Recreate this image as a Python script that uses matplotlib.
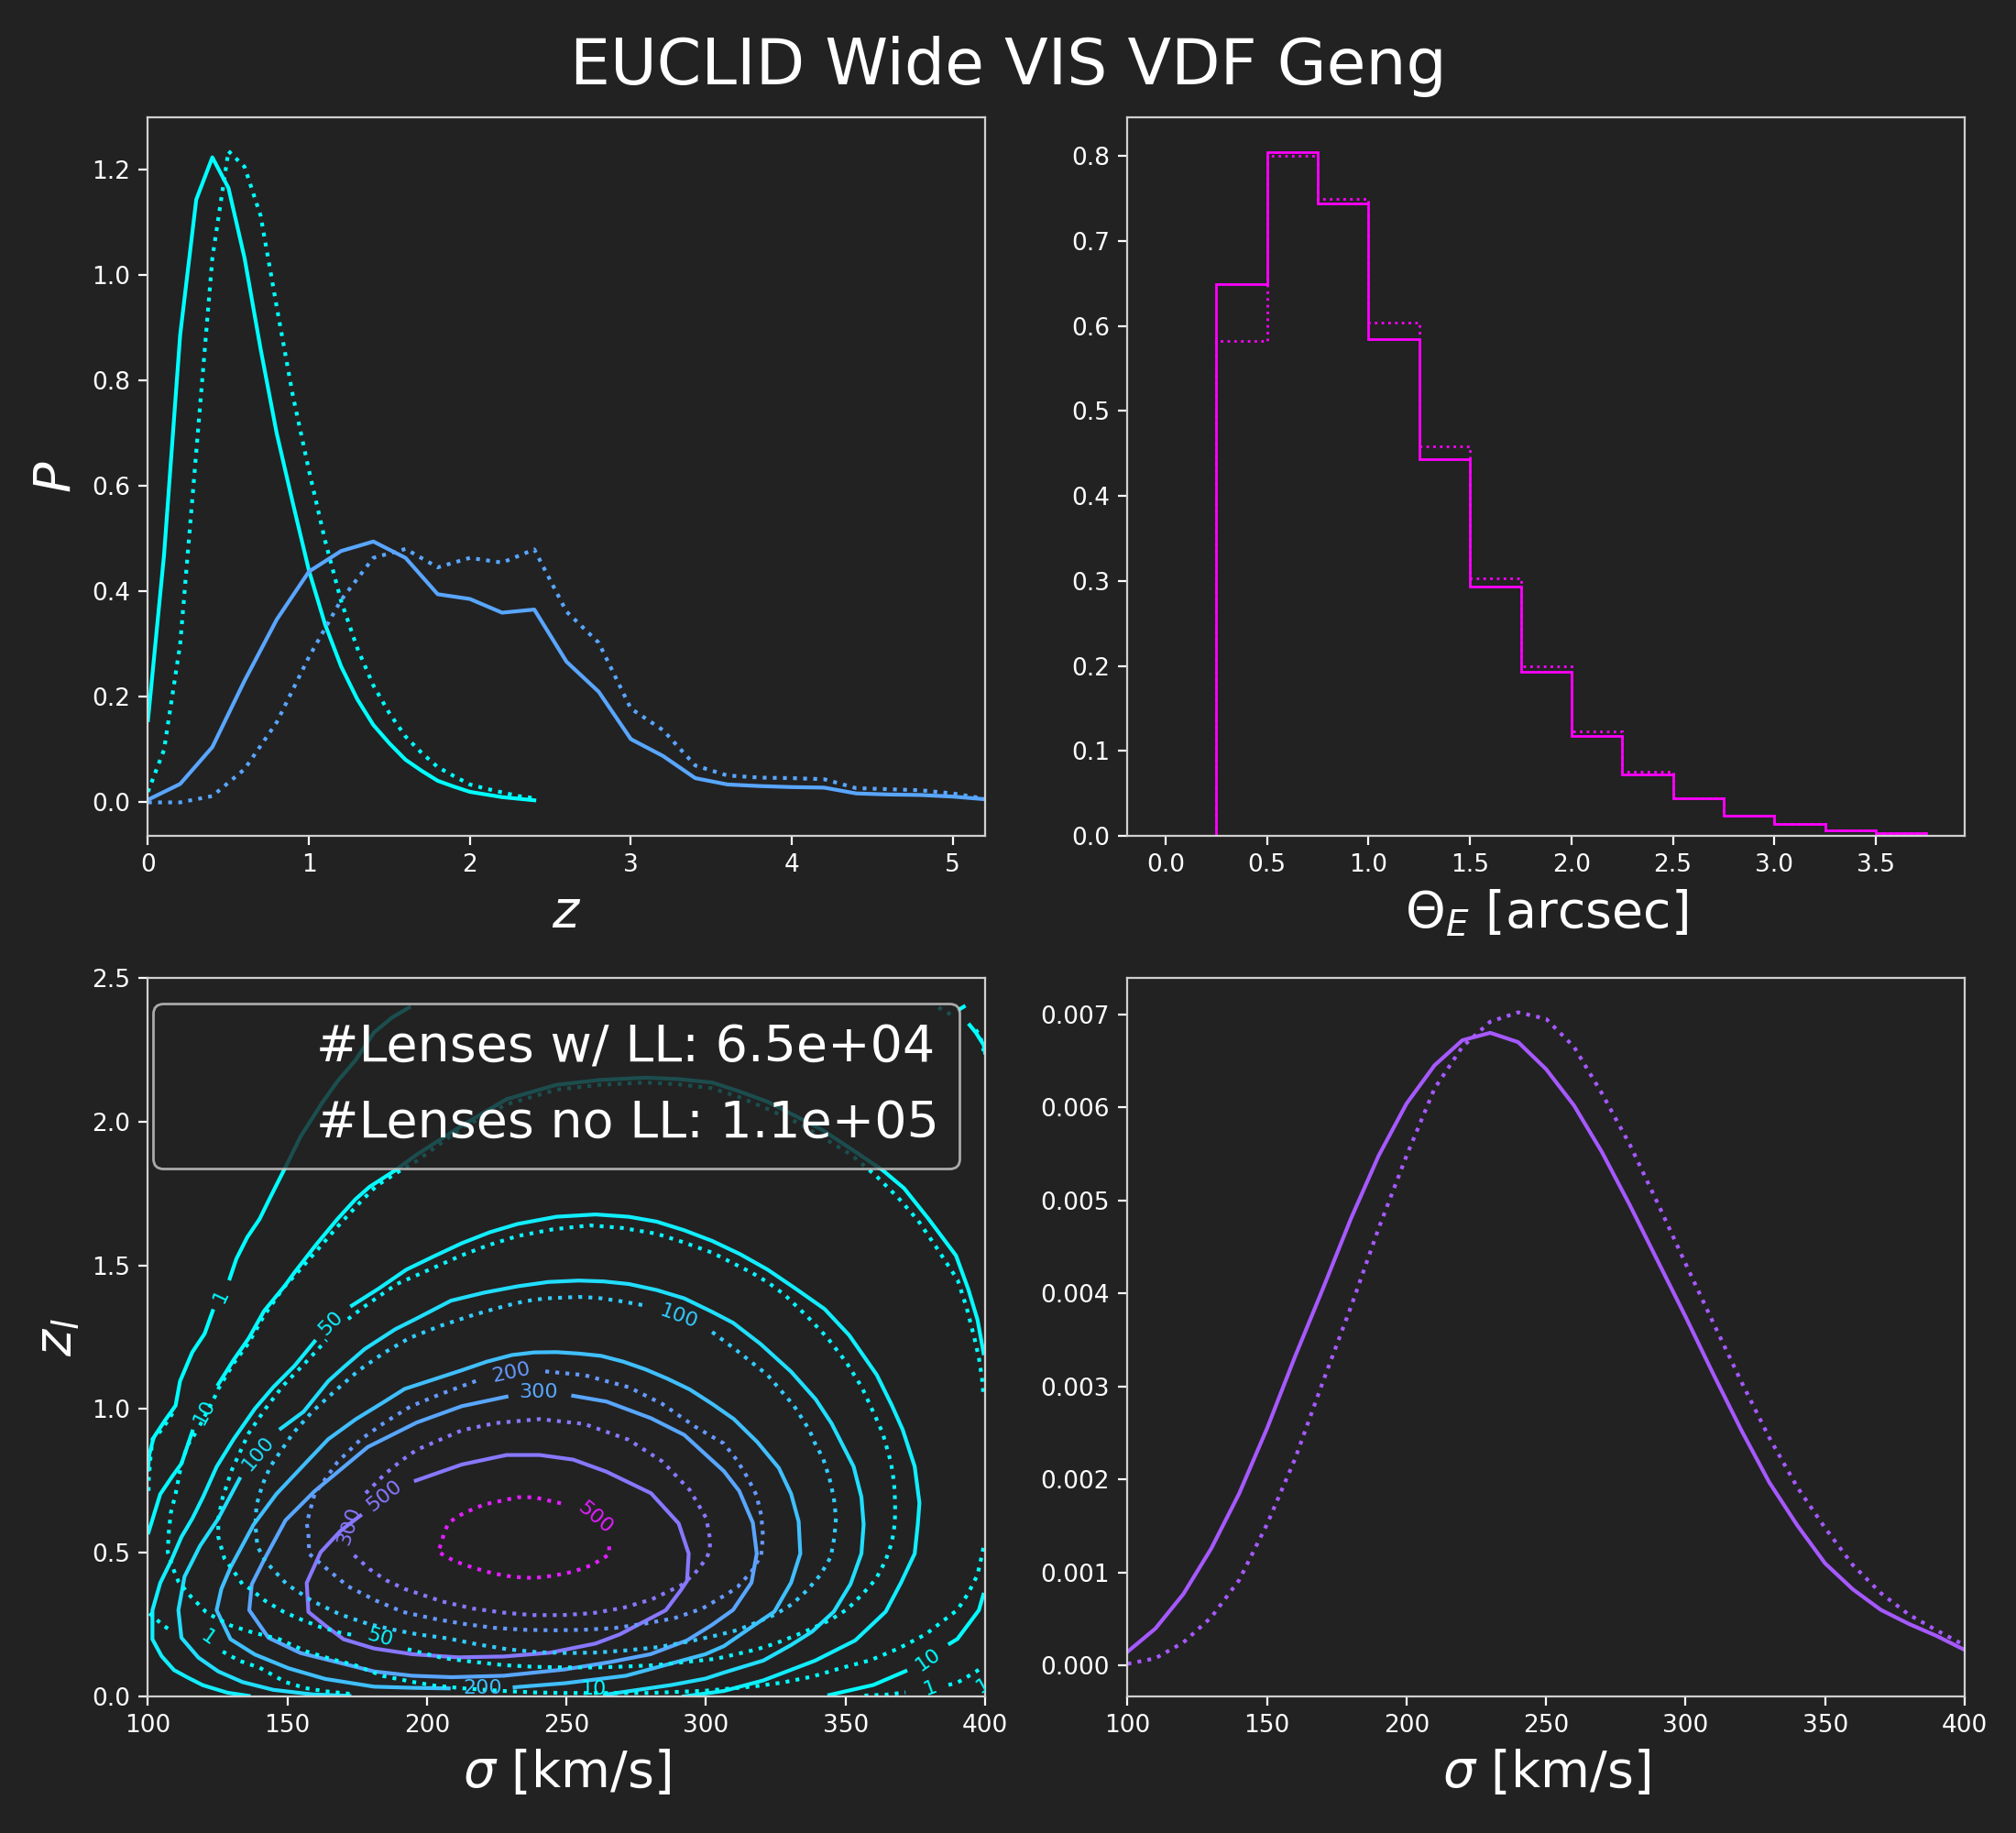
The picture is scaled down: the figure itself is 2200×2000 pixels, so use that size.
import matplotlib
matplotlib.use("Agg")
from matplotlib import pyplot as plt
import numpy as np

bg = "#222222"

# top left: redshift distributions
z_lens = [0, .1, .2, .3, .4, .5, .6, .7, .8, .9, 1.0, 1.1, 1.2, 1.3, 1.4, 1.5, 1.6, 1.7, 1.8, 1.9, 2.0, 2.1, 2.2, 2.3, 2.4]
p_lens_ll = [.156, .47, .887, 1.144, 1.224, 1.166, 1.033, .86, .70, .568, .44, .338, .258, .196, .147, .112, .081, .06, .041, .03, .02, .015, .01, .007, .004]
p_lens_noll = [.02, .10, .30, .665, 1.033, 1.236, 1.206, 1.113, .94, .772, .63, .497, .382, .293, .222, .169, .125, .094, .067, .05, .034, .026, .019, .012, .008]
z_src = [0, .2, .4, .6, .8, 1.0, 1.2, 1.4, 1.6, 1.8, 2.0, 2.2, 2.4, 2.6, 2.8, 3.0, 3.2, 3.4, 3.6, 3.8, 4.0, 4.2, 4.4, 4.6, 4.8, 5.0, 5.2]
p_src_ll = [.005, .035, .105, .231, .347, .438, .477, .495, .464, .395, .386, .36, .366, .267, .21, .12, .088, .046, .034, .031, .029, .028, .017, .015, .014, .011, .006]
p_src_noll = [0, 0, .012, .063, .152, .276, .384, .464, .481, .446, .464, .455, .48, .362, .303, .178, .137, .07, .051, .047, .046, .044, .027, .025, .023, .017, .007]

# top right: einstein radius histogram
theta_edges = [.25, .5, .75, 1.0, 1.25, 1.5, 1.75, 2.0, 2.25, 2.5, 2.75, 3.0, 3.25, 3.5, 3.75]
theta_ll = [.649, .805, .744, .585, .443, .293, .193, .118, .072, .044, .0234, .0144, .0065, .0036]
theta_noll = [.583, .80, .75, .604, .458, .303, .2, .1233, .0755, .0445, .024, .0144, .0065, .0036]

# bottom right: velocity dispersion
sigma = list(range(100, 401, 10))
p_sigma_ll = [.00015, .0004, .00077, .00126, .00185, .00255, .00332, .00405, .0048, .00548, .00604, .00645, .00672, .0068, .0067, .00641,
              .00602, .00552, .00495, .00435, .00375, .00313, .00253, .00197, .00151, .0011, .00082, .0006, .00045, .00032, .00017]
p_sigma_noll = [.00002, .00008, .00025, .00052, .00092, .00152, .00222, .00305, .00385, .0047, .00548, .0062, .00665, .00692, .00702, .00695,
                .00665, .00615, .0056, .00497, .00432, .00368, .00305, .00245, .00192, .00148, .00108, .00078, .00055, .00038, .00022]

# bottom left: contour lines, (sigma, z) per segment
ll_1 = [
    [(100, .789), (100.5, .842), (102, .90), (106, .959), (109.9, 1.012), (111.5, 1.097), (115.9, 1.198), (120.3, 1.262), (123.2, 1.341)],
    [(129.3, 1.454), (131.7, 1.523), (135.6, 1.598), (140, 1.661), (143.8, 1.736), (149.3, 1.842), (154.7, 1.948), (162.4, 2.065), (167.9, 2.14),
     (174.4, 2.214), (181, 2.31), (187.6, 2.363), (193.6, 2.397)],
    [(390.7, 2.39), (392.4, 2.40)],
    [(394.5, 2.336), (396.7, 2.31), (399.5, 2.267), (400, 2.24)],
]
ll_10 = [
    [(100.2, .571), (104.4, .704), (108.8, .767), (112, .81), (115.9, .922)],
    [(125.2, 1.086), (130.7, 1.171), (136.1, 1.246), (141.6, 1.341), (149.3, 1.432), (152.5, 1.475), (160.2, 1.571), (167.9, 1.661), (174.4, 1.73),
     (179.4, 1.773), (188.7, 1.831), (196.3, 1.885), (212.5, 1.986), (228.5, 2.078), (246.4, 2.128), (262, 2.145), (278.3, 2.153), (290, 2.148), (302.2, 2.136),
     (312, 2.105), (322.1, 2.069), (332, 2.02), (342, 1.969), (352, 1.905), (363.3, 1.831), (371, 1.768), (379.8, 1.661), (389.6, 1.534), (394, 1.417), (397.3, 1.311), (399.5, 1.194)],
    [(344.2, .005), (360, .04), (371.5, .088)],
    [(387.4, .184), (390.1, .20), (397.8, .30), (399.4, .354)],
]
ll_50 = [
    [(136.1, .002), (128.5, .013), (119.7, .039), (114.2, .066), (109.3, .092), (104.9, .14), (101.6, .199), (101.6, .30), (104.4, .395), (108.2, .47),
     (112, .555), (115.9, .619), (119.7, .693), (124.6, .799), (130.7, .895), (138.3, 1.001), (144.9, 1.076), (152.5, 1.15), (159.7, 1.235)],
    [(173.1, 1.36), (182.7, 1.419), (192.6, 1.485), (202.6, 1.532), (212.5, 1.577), (222.5, 1.615), (232.5, 1.644), (246.4, 1.669), (260.4, 1.677), (272.3, 1.669),
     (282.3, 1.652), (292.2, 1.622), (302.2, 1.585), (312.2, 1.539), (322.1, 1.485), (332.1, 1.419), (342.5, 1.348), (351.3, 1.257), (361.2, 1.119), (366.6, 1.013),
     (370.5, .928), (374.8, .80), (376.5, .673), (375.9, .598), (374.8, .497), (369.9, .396), (364.4, .295), (353.5, .195), (339.2, .125), (320.6, .056), (306.4, .019), (292, 0)],
]
ll_100 = [
    [(172.2, .002), (159.1, .007), (144.9, .023), (133.9, .05), (125.2, .087), (118.1, .135), (112, .204), (110.9, .30), (113.1, .417), (118.6, .523),
     (125.2, .619), (132.8, .757)],
    [(147.6, .932), (155.8, .991), (164.6, 1.097), (170.1, 1.145), (177.7, 1.209), (188.7, 1.278), (196.3, 1.315), (208.6, 1.377), (220.5, 1.405), (232.5, 1.427),
     (243.4, 1.442), (254.4, 1.447), (263.3, 1.444), (272.3, 1.435), (282.3, 1.414), (292.2, 1.385), (302.2, 1.338), (309.7, 1.30), (319.6, 1.226), (330.5, 1.13), (339.3, 1.034), (345, .95), (352.9, .80), (355.7, .694),
     (356.5, .598), (355.7, .497), (351.8, .391), (345.8, .295), (338.1, .226), (330.5, .179), (320.6, .125), (306.4, .083), (299.8, .062), (287.7, .04), (263.7, .006)],
]
ll_200 = [
    [(207.8, .028), (194.7, .03), (181, .034), (163.5, .061), (150.4, .098), (138.3, .146), (129.6, .199), (124.6, .30), (126.3, .374), (129.6, .449),
     (137.8, .597), (146, .704), (155.8, .805), (164.6, .895), (174.4, .964), (184.3, 1.023), (192, 1.07), (212.5, 1.135), (221.5, 1.165), (230.5, 1.188), (238.4, 1.197), (246.4, 1.198),
     (254.4, 1.193), (262.4, 1.185), (270.3, 1.165), (278.3, 1.138), (286.3, 1.105), (294.2, 1.068), (302.2, 1.018), (310, .965), (318.4, .885), (326.1, .795), (330.5, .705), (333.2, .609), (333.8, .497), (330.5, .396),
     (324.5, .295), (317.3, .248), (306.4, .175), (299.8, .147), (271.3, .072), (249.4, .046), (231.4, .032)],
]
ll_300 = [
    [(252.4, 1.046), (264.3, 1.026), (280.3, .968), (292.2, .91), (306.4, .784), (311.9, .715), (316.8, .604), (318.2, .497), (316.3, .396), (309.7, .301),
     (302, .248), (293.2, .195), (280.1, .147), (265.9, .12), (249.4, .094), (227.5, .072), (208.9, .067), (194.7, .072), (181, .087), (167.9, .119),
     (154.7, .151), (143.2, .204), (136.3, .30), (137.2, .39), (141.6, .475), (149.3, .613), (159.7, .714), (169, .789), (178.8, .868), (188.7, .916),
     (196.3, .953), (212.5, 1.01), (228.5, 1.043)],
]
ll_500 = [
    [(196, .751), (212.5, .807), (228.5, .84), (240.4, .84), (252.4, .824), (264.3, .782), (280.3, .707), (290.2, .602), (293.8, .497), (293.2, .402),
     (291, .37), (285.6, .30), (269.1, .216), (260.4, .184), (244, .152), (227.5, .139), (211.1, .136), (194.7, .147), (181, .167), (170.1, .199),
     (163.5, .247), (157.5, .294), (156.9, .395), (161.9, .502), (169, .576), (176.1, .629)],
]

noll_1 = [
    [(100.5, .289), (105.5, .247), (108.8, .225)],
    [(126.8, .156), (132.8, .124), (140, .10), (149.3, .05), (156.4, .029), (163.5, .018), (174.4, .007)],
    [(356.8, .003), (364.4, .006), (371.5, .014)],
    [(386.9, .04), (390.1, .048), (393.4, .067), (396.7, .086), (399.4, .104)],
    [(108.8, .985), (104.9, .927), (101.6, .895), (100.9, .831), (100.3, .757), (100.2, .704)],
    [(383.3, 2.397), (389.4, 2.363)],
    [(396.7, 2.32), (398.4, 2.294), (399.5, 2.246)],
]
noll_10 = [
    [(117, .916), (114.2, .874), (112, .81), (109.9, .704), (108.2, .64), (107.4, .565), (107.1, .502), (109.3, .438), (110.9, .40), (115.3, .348),
     (120.8, .294), (123.5, .278), (129.6, .247), (136.7, .225), (147.1, .199), (156.9, .156), (165.7, .13), (174.4, .108), (184.3, .071), (195.2, .05),
     (202.4, .038), (213.3, .028), (227.5, .019), (238.5, .014), (249.4, .012), (280, .012), (300, .02), (317.3, .035), (327.2, .048), (338.1, .069),
     (348.5, .099), (358.9, .126), (369, .167), (378.7, .216), (384.3, .258), (390.1, .301), (394, .359), (397.3, .423), (398.9, .492), (399.5, .522)],
    [(118.6, .943), (123.5, 1.033), (125.2, 1.07), (130.7, 1.159), (136.1, 1.23), (141.6, 1.325), (148.7, 1.424), (153.6, 1.475), (161.3, 1.56),
     (168.9, 1.645), (176.6, 1.725), (182.1, 1.778), (189.8, 1.826), (196.3, 1.863), (212.5, 1.978), (228.5, 2.06), (246.4, 2.111), (262, 2.128), (278.3, 2.136), (290, 2.13),
     (302.2, 2.116), (312, 2.085), (322.1, 2.044), (332, 2.0), (342, 1.944), (352, 1.885), (361.1, 1.81), (368.8, 1.736), (376, 1.656), (382.4, 1.565), (390.2, 1.449), (393.4, 1.353),
     (396.2, 1.247), (397.8, 1.178), (398.9, 1.109), (399.5, 1.04)],
]
noll_50 = [
    [(171.7, 1.313), (177.2, 1.354), (183.2, 1.395), (189.2, 1.435), (212.5, 1.535), (222, 1.57), (232.5, 1.602), (245, 1.625), (258.4, 1.639), (270, 1.63), (282.3, 1.61), (292, 1.58), (302.2, 1.544),
     (316.3, 1.475), (322.3, 1.44), (328.1, 1.398), (336.2, 1.323), (343.4, 1.249), (350.2, 1.164), (355.9, 1.075), (360.6, .976), (363.3, .917),
     (366.3, .814), (367.4, .744), (367.8, .673), (367.7, .604), (366.6, .535), (364.2, .469), (360.8, .407), (355.9, .354), (350.7, .304), (344.7, .267),
     (338.1, .237), (331.6, .21), (324.8, .184), (317.9, .163), (310.8, .147), (303.6, .131), (292.9, .12), (282, .109), (271.1, .104), (260.4, .101),
     (249.4, .101), (238.5, .103), (227.5, .109), (216.9, .12), (205.9, .133), (192, .167)],
    [(172.8, .215), (168.4, .223), (161.9, .241), (155.3, .266), (148.7, .294), (142.1, .332), (136.7, .374), (133.9, .39), (131.7, .422), (127.4, .48),
     (125.2, .555), (125.2, .619), (126.8, .693), (130.1, .789), (136.1, .916), (142.1, 1.001), (148.4, 1.081), (156.4, 1.161), (164, 1.24)],
]
noll_100 = [
    [(302.2, 1.268), (310.2, 1.21), (322, 1.119), (331.4, 1.013), (337, .928), (339, .882), (342, .827), (344.2, .761), (345.8, .692), (346.6, .622),
     (346, .553), (344.7, .485), (341, .423), (336.3, .37), (331, .322), (324.8, .285), (318.2, .258), (311.3, .231), (304.5, .214), (293.8, .191),
     (283.2, .172), (272.3, .161), (261.5, .153), (250.6, .151), (239.8, .154), (229, .164), (218.2, .181), (207.5, .202), (196.7, .216), (189.5, .229),
     (179, .252), (168.7, .286), (158.9, .332), (149.8, .39), (142.1, .47), (139.2, .523), (138.5, .597), (138.9, .666), (141, .736), (143.8, .799),
     (147.9, .858), (152, .916), (159.1, .993), (167.3, 1.065), (175.5, 1.134), (184.5, 1.195), (193.9, 1.248), (205, 1.29), (216.5, 1.327), (228.5, 1.36),
     (235, 1.375), (242.4, 1.385), (254.4, 1.39), (261, 1.387), (268.3, 1.377), (278.3, 1.36)],
]
noll_200 = [
    [(242.4, 1.131), (256.4, 1.118), (272.3, 1.076), (284.3, 1.018), (296.2, .938), (306.4, .88), (311.1, .822), (314.8, .763), (318.1, .70), (319.8, .63),
     (320.4, .561), (319.8, .492), (316.3, .434), (311.3, .381), (308, .359), (298.7, .306), (288.6, .272), (277.9, .253), (267.2, .238), (256.3, .232),
     (245.3, .23), (234.4, .232), (223.7, .239), (212.8, .253), (202.1, .271), (191.4, .294), (181.6, .334), (171.7, .383), (163.5, .449), (157.8, .496),
     (157.5, .565), (156.9, .603), (159.7, .704), (167.9, .815), (176.1, .893), (184.8, .953), (194.1, 1.009), (204.6, 1.051), (218.5, 1.101)],
]
noll_300 = [
    [(173.9, .491), (179.4, .443), (185.4, .404), (192, .374), (205.6, .33), (216.3, .306), (227.1, .292), (237.8, .283), (248.7, .283), (259.5, .29),
     (270.2, .308), (280.6, .338), (291, .386), (296, .428), (300.3, .482), (301.4, .513), (301.4, .551), (300.1, .62), (294.2, .718), (284.3, .818),
     (272.3, .893), (256.4, .948), (240.4, .965), (224.5, .951), (212.5, .926), (196.3, .858), (190.9, .821), (184.8, .773), (179.9, .725), (177.7, .704)],
]
noll_500 = [
    [(265.3, .522), (265.3, .494), (259.3, .458), (252.4, .434), (245.3, .42), (238.2, .412), (230.8, .416), (223.7, .428), (216.8, .447), (209.8, .471),
     (204, .503), (205.3, .538), (206.2, .572), (207.8, .604), (210.8, .625), (213.9, .641), (220.5, .668), (232.5, .693), (238.4, .693), (248.4, .671)],
]

ll_contours = [ll_1, ll_10, ll_50, ll_100, ll_200, ll_300, ll_500]
ll_shades = [0, .02, .07, .13, .25, .35, .53]
noll_contours = [noll_1, noll_10, noll_50, noll_100, noll_200, noll_300, noll_500]
noll_shades = [0, 0, .05, .2, .4, .53, .88]

# clabel text: label, sigma, z, angle, colormap shade
contour_labels = [
    ("1", 126, 1.393, 65, 0), ("10", 120.3, .99, 62, .02), ("50", 165.7, 1.299, 45, .07), ("100", 139.4, .847, 50, .13),
    ("1", 121.3, .204, -35, 0), ("50", 183, .204, -15, .05), ("300", 172.2, .592, 72, .53), ("500", 184.8, .698, 38, .53),
    ("100", 290.2, 1.322, -20, .2), ("200", 230.1, 1.126, 12, .4), ("300", 240, 1.06, 0, .35), ("500", 260.4, .621, -40, .88),
    ("200", 219.9, .03, 0, .25), ("10", 259.8, .024, 0, .02), ("10", 379.5, .129, 35, 0), ("1", 380.3, .03, 20, 0), ("1", 399.4, .037, 30, 0),
]

plt.style.use("dark_background")
plt.rcParams["figure.facecolor"] = bg
plt.rcParams["axes.facecolor"] = bg
plt.rcParams["savefig.facecolor"] = bg
plt.rcParams["axes.edgecolor"] = "#d0d0d0"

fig = plt.figure(figsize=(11, 10), dpi=200)
ax_z = fig.add_axes([.0734, .544, .4152, .392])
ax_theta = fig.add_axes([.5593, .544, .4152, .392])
ax_cont = fig.add_axes([.0734, .0745, .4152, .392])
ax_sigma = fig.add_axes([.5593, .0745, .4152, .392])

cool = plt.cm.cool
c_lens = cool(0.0)
c_src = cool(.35)
c_theta = cool(1.0)
c_sigma = cool(.65)

ax_z.plot(z_lens, p_lens_ll, color=c_lens, lw=1.5)
ax_z.plot(z_lens, p_lens_noll, color=c_lens, lw=1.5, ls=":")
ax_z.plot(z_src, p_src_ll, color=c_src, lw=1.5)
ax_z.plot(z_src, p_src_noll, color=c_src, lw=1.5, ls=":")
ax_z.set_xlim(0, 5.2)
ax_z.set_ylim(-.0635, 1.3)
ax_z.set_xlabel(r"$z$", fontsize=20)
ax_z.set_ylabel(r"$P$", fontsize=20)

centers = (np.array(theta_edges[:-1]) + np.array(theta_edges[1:])) / 2
ax_theta.hist(centers, bins=theta_edges, weights=theta_ll, histtype="step", color=c_theta, lw=1)
ax_theta.hist(centers, bins=theta_edges, weights=theta_noll, histtype="step", color=c_theta, lw=1, ls=":")
ax_theta.set_xlim(-.1875, 3.9375)
ax_theta.set_ylim(0, .8457)
ax_theta.set_xticks([0, .5, 1, 1.5, 2, 2.5, 3, 3.5])
ax_theta.set_xlabel(r"$\Theta_E$ [arcsec]", fontsize=20)

for segments, shade in zip(ll_contours, ll_shades):
    for seg in segments:
        xs, ys = zip(*seg)
        ax_cont.plot(xs, ys, color=cool(shade), lw=1.5)
for segments, shade in zip(noll_contours, noll_shades):
    for seg in segments:
        xs, ys = zip(*seg)
        ax_cont.plot(xs, ys, color=cool(shade), lw=1.5, ls=":")
for label, x, y, angle, shade in contour_labels:
    ax_cont.text(x, y, label, rotation=angle, color=cool(shade), fontsize=8, ha="center", va="center",
                 rotation_mode="anchor", clip_on=True)
ax_cont.plot([], [], " ", label="#Lenses w/ LL: 6.5e+04")
ax_cont.plot([], [], " ", label="#Lenses no LL: 1.1e+05")
ax_cont.legend(fontsize=20, loc="upper right", facecolor=bg)
ax_cont.set_xlim(100, 400)
ax_cont.set_ylim(0, 2.5)
ax_cont.set_xlabel(r"$\sigma$ [km/s]", fontsize=20)
ax_cont.set_ylabel(r"$z_l$", fontsize=20)

ax_sigma.plot(sigma, p_sigma_ll, color=c_sigma, lw=1.5)
ax_sigma.plot(sigma, p_sigma_noll, color=c_sigma, lw=1.5, ls=":")
ax_sigma.set_xlim(100, 400)
ax_sigma.set_ylim(-.00033, .00739)
ax_sigma.set_xlabel(r"$\sigma$ [km/s]", fontsize=20)

for ax in [ax_z, ax_theta, ax_cont, ax_sigma]:
    ax.tick_params(labelsize=9.5)

fig.suptitle("EUCLID Wide VIS VDF Geng", fontsize=25, y=.9638, va="center")
fig.savefig("out.png", dpi=200)
